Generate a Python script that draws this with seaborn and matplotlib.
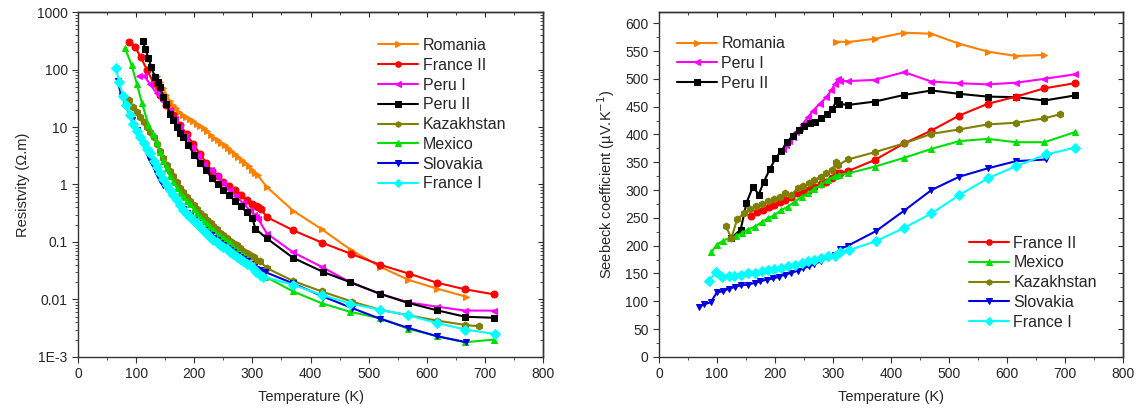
import numpy as np
import pandas as pd
import seaborn as sns
import matplotlib.pyplot as plt
from matplotlib.ticker import MultipleLocator, FixedLocator, FixedFormatter, LogLocator, NullFormatter

# ---------------- resistivity (left panel) ----------------
romania_T = [135, 141, 147, 152, 158, 163, 168, 174, 180, 186, 192, 198, 204, 210, 216, 222, 228, 234, 240,
             246, 252, 258, 264, 270, 276, 282, 288, 294, 300, 305, 309, 325, 370, 420, 470, 520, 568, 617, 667]
romania_rho = [77, 60, 47, 36, 28, 24, 21, 18, 16, 15, 13.7, 12.5, 11.5, 10.6, 9.6, 8.4, 7.3, 6.5, 5.9,
               5.3, 4.8, 4.3, 3.9, 3.4, 3.0, 2.7, 2.4, 2.1, 1.8, 1.6, 1.45, 0.9, 0.35, 0.165, 0.072, 0.037,
               0.022, 0.0155, 0.0112]

france2_T = [88, 98, 108, 119, 130, 141, 152, 164, 175, 187, 198, 210, 220, 230, 240, 250, 260, 270, 280,
             290, 300, 306, 310, 315, 325, 370, 420, 470, 520, 570, 617, 666, 715]
france2_rho = [300, 250, 163, 97, 58, 36, 24, 16, 11, 7.5, 5.0, 3.4, 2.4, 1.75, 1.4, 1.12, 0.95, 0.80, 0.66,
               0.54, 0.46, 0.42, 0.40, 0.37, 0.27, 0.16, 0.097, 0.062, 0.040, 0.028, 0.0196, 0.015, 0.0123]

peru1_T = [104, 114, 124, 135, 146, 158, 167, 175, 185, 196, 206, 216, 228, 239, 250, 261, 272, 284, 295,
           303, 307, 310, 325, 370, 419, 468, 517, 568, 617, 666, 715]
peru1_rho = [77, 78, 55, 39, 28, 20, 14, 10, 7, 4.5, 3.2, 2.3, 1.8, 1.38, 1.05, 0.79, 0.62, 0.47, 0.36,
             0.30, 0.27, 0.25, 0.14, 0.066, 0.037, 0.020, 0.0128, 0.0089, 0.0075, 0.0064, 0.0064]

peru2_T = [111, 116, 121, 126, 132, 137, 141, 147, 152, 158, 164, 170, 175, 181, 190, 200, 210, 220, 230,
           240, 250, 260, 270, 280, 290, 300, 305, 325, 370, 422, 468, 520, 568, 617, 666, 715]
peru2_rho = [316, 230, 157, 110, 75, 60, 50, 33, 25, 17, 13, 10, 8, 6.8, 4.8, 3.3, 2.4, 1.8, 1.3,
             1.0, 0.8, 0.65, 0.52, 0.42, 0.33, 0.26, 0.17, 0.115, 0.053, 0.030, 0.020, 0.0125, 0.0087,
             0.0065, 0.005, 0.0048]

kazakh_T = [88, 95, 101, 107, 113, 118, 124, 130, 136, 141, 147, 153, 158, 164, 170, 176, 181, 187, 193,
            199, 204, 210, 216, 222, 228, 233, 239, 245, 250, 256, 262, 267, 273, 279, 284, 290, 296, 302,
            307, 313, 325, 370, 419, 471, 520, 568, 617, 666, 690]
kazakh_rho = [30, 22, 18, 15, 12, 10, 8.2, 6.7, 5, 3.9, 2.9, 2.2, 1.75, 1.4, 1.1, 0.88, 0.73, 0.61, 0.52,
              0.44, 0.38, 0.32, 0.28, 0.24, 0.21, 0.19, 0.165, 0.145, 0.13, 0.117, 0.105, 0.095, 0.087,
              0.078, 0.071, 0.065, 0.059, 0.054, 0.049, 0.046, 0.035, 0.021, 0.0138, 0.0092, 0.0066,
              0.0053, 0.0043, 0.0036, 0.0034]

mexico_T = [81, 92, 101, 110, 121, 129, 135, 141, 147, 153, 158, 164, 170, 176, 181, 187, 193, 199, 204,
            210, 216, 222, 227, 233, 239, 245, 250, 256, 261, 267, 273, 279, 284, 290, 296, 302, 307, 313,
            322, 370, 419, 468, 520, 568, 617, 666, 715]
mexico_rho = [233, 120, 57, 26, 11, 7.5, 5.5, 3.7, 2.6, 1.9, 1.4, 1.1, 0.88, 0.72, 0.6, 0.52, 0.46, 0.38,
              0.32, 0.27, 0.235, 0.205, 0.185, 0.16, 0.14, 0.125, 0.115, 0.105, 0.096, 0.082, 0.072,
              0.064, 0.06, 0.052, 0.042, 0.035, 0.031, 0.029, 0.025, 0.0138, 0.0086, 0.0061, 0.0047,
              0.0031, 0.0023, 0.0018, 0.0020]

slovakia_T = [68, 75, 84, 92, 101, 107, 113, 118, 124, 130, 136, 141, 147, 153, 158, 164, 170, 176, 181,
              187, 193, 199, 204, 210, 216, 222, 228, 233, 239, 245, 250, 256, 261, 267, 273, 279, 284,
              290, 296, 302, 307, 313, 322, 370, 422, 471, 520, 568, 617, 668]
slovakia_rho = [62, 34, 22, 13, 8.9, 6.5, 4.8, 3.6, 2.7, 2.0, 1.5, 1.2, 0.98, 0.82, 0.71, 0.6, 0.5, 0.43,
                0.37, 0.32, 0.28, 0.245, 0.215, 0.185, 0.16, 0.145, 0.13, 0.118, 0.108, 0.097, 0.088,
                0.08, 0.073, 0.066, 0.06, 0.055, 0.051, 0.047, 0.041, 0.036, 0.034, 0.032, 0.030, 0.019,
                0.0112, 0.0071, 0.0046, 0.0032, 0.0023, 0.0018]

france1_T = [65, 71, 77, 83, 89, 95, 101, 107, 113, 118, 124, 130, 135, 141, 147, 153, 158, 164, 170, 176,
             181, 187, 193, 199, 204, 210, 216, 222, 227, 233, 239, 245, 250, 256, 262, 267, 273, 279, 284,
             290, 296, 302, 307, 313, 319, 370, 419, 468, 520, 568, 617, 666, 718]
france1_rho = [105, 60, 35, 24, 16, 11.5, 8.5, 6.7, 5.2, 4.2, 3.5, 2.6, 2.0, 1.6, 1.25, 0.98, 0.79, 0.66,
               0.54, 0.44, 0.36, 0.31, 0.27, 0.23, 0.21, 0.18, 0.155, 0.135, 0.12, 0.11, 0.1, 0.09, 0.083,
               0.075, 0.068, 0.061, 0.055, 0.05, 0.046, 0.042, 0.039, 0.034, 0.03, 0.027, 0.025, 0.018,
               0.012, 0.0085, 0.0066, 0.0053, 0.0039, 0.0030, 0.0025]

# ---------------- Seebeck (right panel) ----------------
romania_Ts = [306, 326, 372, 423, 470, 518, 567, 616, 665]
romania_S = [567, 566, 572, 583, 581, 563, 549, 541, 543]

peru1_Ts = [214, 220, 225, 231, 237, 243, 248, 257, 266, 277, 289, 297, 303, 309, 312, 326, 372, 423, 470,
            518, 567, 616, 665, 717]
peru1_S = [374, 381, 389, 396, 404, 411, 419, 431, 443, 455, 467, 479, 490, 499, 496, 496, 498, 512, 495,
           492, 490, 493, 500, 508]

peru2_Ts = [125, 141, 151, 162, 172, 181, 191, 201, 211, 221, 231, 241, 251, 260, 270, 280, 290, 299, 307,
            311, 326, 372, 423, 470, 518, 567, 616, 665, 717]
peru2_S = [214, 229, 277, 306, 292, 315, 337, 357, 370, 386, 398, 408, 416, 420, 422, 429, 437, 446, 462,
           455, 453, 459, 471, 479, 473, 468, 467, 461, 470]

france2_Ts = [159, 169, 179, 189, 199, 208, 218, 228, 238, 248, 259, 268, 279, 289, 299, 306, 312, 326, 372,
              423, 470, 518, 567, 616, 665, 717]
france2_S = [254, 261, 264, 269, 273, 279, 282, 288, 294, 297, 301, 306, 311, 315, 321, 331, 330, 334, 354,
             384, 407, 434, 455, 468, 483, 492]

kazakh_Ts = [115, 125, 135, 147, 157, 167, 177, 188, 198, 208, 218, 228, 239, 248, 259, 268, 279, 289, 299,
             306, 309, 326, 372, 423, 470, 518, 567, 616, 665, 691]
kazakh_S = [236, 214, 248, 258, 266, 271, 275, 280, 284, 288, 294, 291, 303, 307, 312, 318, 324, 330, 336,
            351, 345, 355, 368, 384, 401, 409, 418, 421, 429, 436]

mexico_Ts = [90, 100, 111, 122, 133, 143, 153, 165, 177, 188, 199, 211, 222, 234, 246, 257, 268, 280, 291,
             303, 310, 326, 372, 423, 470, 518, 567, 616, 665, 717]
mexico_S = [188, 202, 209, 214, 217, 223, 229, 234, 242, 249, 255, 264, 270, 279, 288, 294, 302, 310, 318,
            325, 327, 330, 342, 358, 374, 388, 392, 386, 386, 404]

slovakia_Ts = [69, 78, 89, 100, 110, 121, 132, 142, 153, 165, 175, 186, 197, 207, 217, 228, 239, 248, 259,
               268, 280, 291, 303, 312, 326, 374, 423, 470, 518, 567, 616, 668]
slovakia_S = [89, 95, 98, 116, 118, 123, 126, 129, 130, 133, 136, 139, 141, 144, 148, 151, 155, 159, 163,
              167, 172, 178, 184, 194, 200, 226, 263, 300, 324, 339, 352, 355]

france1_Ts = [86, 98, 109, 120, 130, 142, 153, 165, 177, 188, 199, 211, 222, 234, 246, 257, 268, 280, 291,
              303, 312, 328, 374, 423, 470, 518, 567, 616, 668, 717]
france1_S = [137, 152, 144, 145, 146, 148, 150, 151, 154, 156, 158, 160, 163, 166, 169, 172, 175, 178, 181,
             182, 188, 192, 208, 232, 258, 291, 321, 343, 364, 376]

# style per sample: colour, marker
styles = {
    'Romania': ('#FF8000', '>'),
    'France II': ('#FF0000', 'o'),
    'Peru I': ('#FF00FF', '<'),
    'Peru II': ('#000000', 's'),
    'Kazakhstan': ('#808000', 'h'),
    'Mexico': ('#00E000', '^'),
    'Slovakia': ('#0000E0', 'v'),
    'France I': ('#00FFFF', 'D'),
}

left_series = [
    ('Romania', romania_T, romania_rho),
    ('France II', france2_T, france2_rho),
    ('Peru I', peru1_T, peru1_rho),
    ('Peru II', peru2_T, peru2_rho),
    ('Kazakhstan', kazakh_T, kazakh_rho),
    ('Mexico', mexico_T, mexico_rho),
    ('Slovakia', slovakia_T, slovakia_rho),
    ('France I', france1_T, france1_rho),
]
right_series = [
    ('Romania', romania_Ts, romania_S),
    ('Peru I', peru1_Ts, peru1_S),
    ('Peru II', peru2_Ts, peru2_S),
    ('France II', france2_Ts, france2_S),
    ('Mexico', mexico_Ts, mexico_S),
    ('Kazakhstan', kazakh_Ts, kazakh_S),
    ('Slovakia', slovakia_Ts, slovakia_S),
    ('France I', france1_Ts, france1_S),
]

sns.set_style("ticks")
plt.rcParams['font.family'] = ['Liberation Sans', 'DejaVu Sans']
plt.rcParams['axes.linewidth'] = 1.0
plt.rcParams['axes.edgecolor'] = '#333333'

fig = plt.figure(figsize=(11.48, 4.16), dpi=100)
ax1 = fig.add_axes([0.068, 0.142, 0.405, 0.829])
ax2 = fig.add_axes([0.574, 0.142, 0.404, 0.829])


def draw(ax, series):
    handles = {}
    for name, T, val in series:
        col, mk = styles[name]
        df = pd.DataFrame({'T': T, 'v': val})
        sns.lineplot(data=df, x='T', y='v', ax=ax, color=col, marker=mk, markersize=5,
                     markeredgecolor=col, linewidth=1.5, sort=False, estimator=None, label=name)
        handles[name] = ax.get_lines()[-1]
    ax.get_legend().remove()
    return handles


def frame(ax):
    ax.set_xlim(0, 800)
    ax.xaxis.set_major_locator(MultipleLocator(100))
    ax.xaxis.set_minor_locator(MultipleLocator(50))
    ax.tick_params(which='both', direction='out', labelsize=10, color='#333333')
    ax.tick_params(which='major', length=4)
    ax.tick_params(which='minor', length=2.5)
    ax.set_xlabel('Temperature (K)', fontsize=10.5, labelpad=6)
    for s in ['top', 'right']:
        ax.spines[s].set_visible(True)


# left panel
h1 = draw(ax1, left_series)
ax1.set_yscale('log')
ax1.set_ylim(1e-3, 1e3)
frame(ax1)
yt = [1e-3, 1e-2, 1e-1, 1, 10, 100, 1000]
ax1.yaxis.set_major_locator(FixedLocator(yt))
ax1.yaxis.set_major_formatter(FixedFormatter(['1E-3', '0.01', '0.1', '1', '10', '100', '1000']))
ax1.yaxis.set_minor_locator(LogLocator(base=10, subs=np.arange(2, 10), numticks=20))
ax1.yaxis.set_minor_formatter(NullFormatter())
ax1.set_ylabel('Resistvity (\u03a9.m)', fontsize=10.5, labelpad=5)
top1 = ax1.secondary_xaxis('top')
top1.xaxis.set_major_locator(MultipleLocator(100))
top1.xaxis.set_minor_locator(MultipleLocator(50))
top1.tick_params(which='both', direction='in', labeltop=False)
right1 = ax1.secondary_yaxis('right')
right1.yaxis.set_major_locator(FixedLocator(yt))
right1.yaxis.set_minor_locator(LogLocator(base=10, subs=np.arange(2, 10), numticks=20))
right1.tick_params(which='both', direction='in', labelright=False)
right1.tick_params(which='minor', length=2)

names = [s[0] for s in left_series]
ax1.legend([h1[n] for n in names], names, loc='upper left', bbox_to_anchor=(0.645, 0.925),
           frameon=False, fontsize=11.5, handlelength=2.5, handletextpad=0.3, labelspacing=0.3,
           borderpad=0, borderaxespad=0, markerscale=0.8)

# right panel
h2 = draw(ax2, right_series)
ax2.set_ylim(0, 620)
frame(ax2)
ax2.yaxis.set_major_locator(MultipleLocator(50))
ax2.yaxis.set_minor_locator(MultipleLocator(25))
ax2.set_ylabel('Seebeck coefficient (\u00b5V.K$^{-1}$)', fontsize=10.5, labelpad=6)
top2 = ax2.secondary_xaxis('top')
top2.xaxis.set_major_locator(MultipleLocator(100))
top2.xaxis.set_minor_locator(MultipleLocator(50))
top2.tick_params(which='both', direction='in', labeltop=False)
right2 = ax2.secondary_yaxis('right')
right2.yaxis.set_major_locator(MultipleLocator(50))
right2.yaxis.set_minor_locator(MultipleLocator(25))
right2.tick_params(which='both', direction='in', labelright=False)

up = ['Romania', 'Peru I', 'Peru II']
low = ['France II', 'Mexico', 'Kazakhstan', 'Slovakia', 'France I']
leg_up = ax2.legend([h2[n] for n in up], up, loc='upper left', bbox_to_anchor=(0.038, 0.93),
                    frameon=False, fontsize=11.5, handlelength=2.5, handletextpad=0.3, labelspacing=0.3,
                    borderpad=0, borderaxespad=0, markerscale=0.8)
ax2.add_artist(leg_up)
ax2.legend([h2[n] for n in low], low, loc='upper left', bbox_to_anchor=(0.668, 0.352),
           frameon=False, fontsize=11.5, handlelength=2.5, handletextpad=0.3, labelspacing=0.3,
           borderpad=0, borderaxespad=0, markerscale=0.8)

fig.savefig('out.png', dpi=100)
